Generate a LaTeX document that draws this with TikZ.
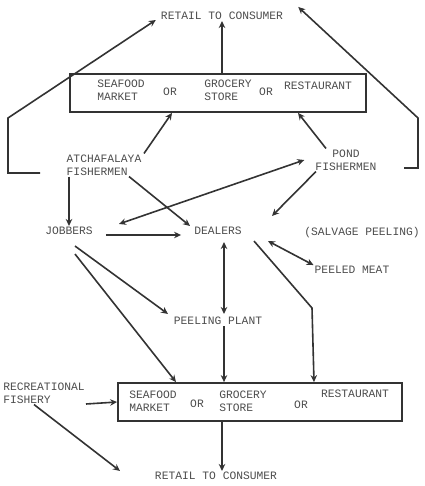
\documentclass[tikz,border=0pt]{standalone}
\usepackage{fontspec}
\setmonofont{Liberation Mono}
\usetikzlibrary{arrows.meta}
\begin{document}
\begin{tikzpicture}[x=1pt,y=-1pt,
  lbl/.style={font=\ttfamily\fontsize{11.3}{13}\selectfont, text=black!70, inner sep=1pt, align=left},
  conn/.style={draw=black!80, line width=1.6pt, -{Stealth[length=7pt,width=6.5pt]}},
  dconn/.style={draw=black!80, line width=1.6pt, {Stealth[length=7pt,width=6.5pt]}-{Stealth[length=7pt,width=6.5pt]}},
  boxst/.style={draw=black!80, line width=1.8pt, minimum height=38pt, inner sep=0pt}]
\useasboundingbox (0,0) rectangle (424,486);
% top
\node[lbl] (rtop) at (222,16) {RETAIL TO CONSUMER};
\node[boxst, minimum width=296pt] (box1) at (218,93) {};
\node[lbl] (sm1) at (121,90) {SEAFOOD\\MARKET};
\node[lbl] (or1a) at (170,92) {OR};
\node[lbl] (gs1) at (228,90) {GROCERY\\STORE};
\node[lbl] (or1b) at (266,92) {OR};
\node[lbl] (rs1) at (318,86) {RESTAURANT};
\node[lbl] (atch) at (104,165) {ATCHAFALAYA\\FISHERMEN};
\node[lbl, align=center] (pond) at (346,160) {POND\\FISHERMEN};
\node[lbl] (job) at (69,231) {JOBBERS};
\node[lbl] (deal) at (218,231) {DEALERS};
\node[lbl] (salv) at (362,233) {(SALVAGE PEELING)};
\node[lbl] (peeled) at (352,270) {PEELED MEAT};
\node[lbl] (plant) at (218,321) {PEELING PLANT};
\node[lbl] (rec) at (44,393) {RECREATIONAL\\FISHERY};
\node[boxst, minimum width=284pt] (box2) at (260,402) {};
\node[lbl] (sm2) at (153,401) {SEAFOOD\\MARKET};
\node[lbl] (or2a) at (197,404) {OR};
\node[lbl] (gs2) at (243,401) {GROCERY\\STORE};
\node[lbl] (or2b) at (301,405) {OR};
\node[lbl] (rs2) at (355,394) {RESTAURANT};
\node[lbl] (rbot) at (216,476) {RETAIL TO CONSUMER};
% helper coordinates
\coordinate (lA) at (40,173);
\coordinate (lB) at (8,173);
\coordinate (lC) at (8,118);
\coordinate (rA) at (404,168);
\coordinate (rB) at (418,168);
\coordinate (rC) at (418,118);
\coordinate (bend) at (312,308);
\coordinate (recS) at (86,404);
% connectors
\draw[conn] (box1.north -| rtop) -- (rtop.south);
\draw[conn] (lA) -- (lB) -- (lC) -- ([xshift=-4pt,yshift=-4pt]rtop.west);
\draw[conn] (rA) -- (rB) -- (rC) -- ([xshift=14pt,yshift=4pt]rtop.north east);
\draw[conn] ([xshift=40pt]atch.north) -- ([xshift=-46pt]box1.south);
\draw[conn] ([xshift=-20pt]pond.north) -- ([xshift=80pt]box1.south);
\draw[conn] ([xshift=-35pt]atch.south) -- (job.north);
\draw[conn] ([xshift=25pt]atch.south) -- ([xshift=-28pt]deal.north);
\draw[dconn] ([xshift=-10pt]pond.west) -- ([xshift=50pt,yshift=2pt]job.north);
\draw[conn] ([xshift=-30pt]pond.south) -- ([xshift=54pt,yshift=10pt]deal.north);
\draw[conn] ([xshift=12pt,yshift=-4pt]job.east) -- ([xshift=-12pt,yshift=-4pt]deal.west);
\draw[dconn] ([xshift=50pt,yshift=-5pt]deal.south) -- (peeled.north west);
\draw[dconn] ([xshift=6pt,yshift=-6pt]deal.south) -- ([xshift=6pt,yshift=2pt]plant.north);
\draw[conn] ([xshift=6pt,yshift=-10pt]job.south) -- ([xshift=-50pt,yshift=2pt]plant.north);
\draw[conn] ([xshift=6pt,yshift=-18pt]job.south) -- ([xshift=-84pt]box2.north);
\draw[conn] ([xshift=6pt]plant.south) -- ([xshift=-36pt]box2.north);
\draw[conn] ([xshift=36pt,yshift=-5pt]deal.south) -- (bend) -- ([xshift=54pt]box2.north);
\draw[conn] (recS) -- (box2.west);
\draw[conn] ([xshift=-10pt]rec.south) -- ([xshift=-96pt]rbot.north);
\draw[conn] ([xshift=6pt]box2.south -| rbot) -- ([xshift=6pt]rbot.north);
\end{tikzpicture}
\end{document}
